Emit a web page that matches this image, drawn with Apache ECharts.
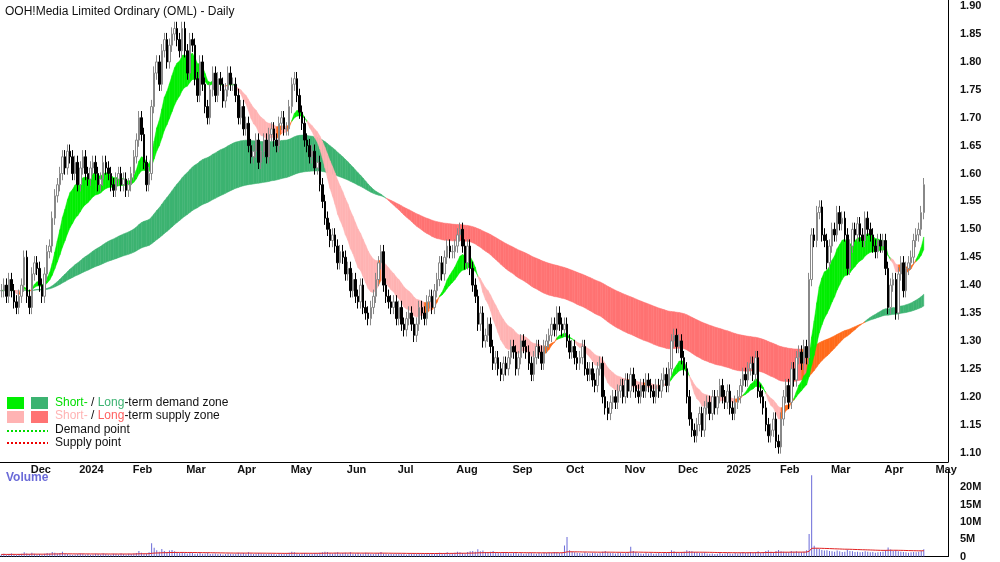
<!DOCTYPE html>
<html><head><meta charset="utf-8">
<script src="https://cdn.jsdelivr.net/npm/echarts@6/dist/echarts.min.js"></script>
<style>html,body{margin:0;padding:0;background:#fff}#c{width:1000px;height:562px}</style>
</head><body><div id="c"></div>
<script>
// month labels and daily closes, one array per month
var months = ['', 'Dec', '2024', 'Feb', 'Mar', 'Apr', 'May', 'Jun', 'Jul', 'Aug', 'Sep', 'Oct', 'Nov', 'Dec', '2025', 'Feb', 'Mar', 'Apr'];
var priceTicks = [1.10,1.15,1.20,1.25,1.30,1.35,1.40,1.45,1.50,1.55,1.60,1.65,1.70,1.75,1.80,1.85,1.90];
var closes = [
    [1.39,1.40,1.38,1.41,1.39,1.37,1.36,1.38,1.40,1.45],
    [1.38,1.36,1.42,1.44,1.43,1.40,1.38,1.42,1.46,1.47,1.52,1.56,1.58,1.60,1.63,1.61,1.64,1.63,1.60],
    [1.62,1.58,1.61,1.63,1.60,1.59,1.61,1.62,1.60,1.58,1.59,1.62,1.61,1.60,1.58,1.57,1.59,1.60,1.58,1.59,1.57],
    [1.58,1.60,1.63,1.66,1.70,1.67,1.62,1.58,1.60,1.72,1.78,1.80,1.76,1.82,1.84,1.80,1.83,1.85,1.86,1.84,1.82],
    [1.86,1.82,1.78,1.84,1.83,1.77,1.74,1.80,1.76,1.72,1.70,1.75,1.78,1.74,1.77,1.76,1.73,1.75,1.78,1.76],
    [1.76,1.74,1.70,1.72,1.68,1.69,1.65,1.63,1.64,1.66,1.62,1.64,1.66,1.63,1.67,1.68,1.66,1.65,1.69,1.70,1.68],
    [1.68,1.72,1.76,1.77,1.74,1.71,1.69,1.66,1.65,1.63,1.64,1.61,1.62,1.58,1.55,1.52,1.50,1.48,1.49,1.47,1.44,1.46],
    [1.45,1.42,1.43,1.39,1.41,1.38,1.37,1.40,1.36,1.35,1.34,1.36,1.38,1.41,1.44,1.46,1.40,1.38,1.37,1.36],
    [1.37,1.34,1.36,1.33,1.32,1.34,1.35,1.33,1.31,1.33,1.36,1.35,1.34,1.37,1.38,1.36,1.39,1.41,1.44,1.42,1.45,1.47,1.46],
    [1.46,1.47,1.49,1.50,1.47,1.44,1.47,1.43,1.40,1.38,1.33,1.35,1.30,1.31,1.33,1.29,1.26,1.27,1.25,1.24,1.26,1.25],
    [1.27,1.29,1.28,1.25,1.27,1.30,1.29,1.28,1.26,1.24,1.27,1.29,1.28,1.26,1.29,1.30,1.31,1.33,1.32,1.35,1.33],
    [1.32,1.33,1.30,1.28,1.29,1.27,1.26,1.27,1.29,1.25,1.24,1.25,1.23,1.22,1.25,1.26,1.20,1.18,1.17,1.19,1.20,1.19,1.21],
    [1.22,1.20,1.23,1.21,1.24,1.22,1.21,1.20,1.22,1.21,1.23,1.22,1.21,1.20,1.22,1.21,1.23,1.24,1.22,1.25,1.30],
    [1.31,1.29,1.30,1.27,1.25,1.20,1.16,1.14,1.13,1.15,1.17,1.14,1.18,1.19,1.17,1.20,1.18,1.20,1.22],
    [1.20,1.19,1.21,1.18,1.17,1.19,1.20,1.22,1.24,1.23,1.25,1.26,1.24,1.27,1.21,1.20,1.18,1.15,1.13,1.14,1.16],
    [1.12,1.11,1.16,1.20,1.22,1.19,1.25,1.23,1.27,1.28,1.26,1.29,1.27,1.41,1.49,1.48,1.53,1.54,1.49,1.48],
    [1.44,1.47,1.50,1.49,1.53,1.51,1.52,1.49,1.43,1.47,1.50,1.49,1.51,1.49,1.48,1.52,1.50,1.49,1.47,1.46,1.48],
    [1.47,1.48,1.43,1.36,1.40,1.41,1.35,1.42,1.44,1.39,1.43,1.44,1.45,1.48,1.49,1.50,1.53,1.58]
];
// volume in millions, one array per month
var volumes = [
    [0.6,0.8,0.5,0.7,0.9,0.6,0.5,0.7,0.8,1.2],
    [0.9,0.7,1.1,0.8,0.6,0.7,0.5,0.8,1.0,0.9,1.3,1.1,0.9,1.0,1.4,0.8,0.7,0.6,0.5],
    [0.6,0.7,0.9,0.8,0.6,0.7,0.5,0.6,0.8,0.7,0.6,0.9,0.7,0.6,0.5,0.8,0.7,0.6,0.9,0.7,0.6],
    [0.8,0.7,0.9,1.0,1.6,1.1,0.8,0.9,1.2,3.8,2.5,1.8,1.4,2.2,1.6,1.3,1.7,1.9,1.5,1.2,1.1],
    [1.3,1.0,0.9,1.2,1.1,0.8,0.9,1.0,0.8,0.9,1.1,0.7,0.8,0.9,0.7,0.8,0.6,0.7,0.9,0.8],
    [0.7,0.8,1.1,0.9,1.0,0.8,1.2,0.9,0.7,0.8,1.0,0.9,0.8,0.7,0.9,0.8,0.7,0.6,0.9,0.8,0.7],
    [0.9,1.1,1.4,1.2,0.9,0.8,0.9,1.0,0.8,0.9,0.8,1.0,0.9,1.1,1.2,1.4,1.3,1.0,0.9,1.1,1.2,0.9],
    [1.0,1.1,0.9,1.2,0.8,0.9,1.0,0.8,0.9,1.1,1.0,0.8,0.7,0.9,1.0,1.3,0.9,0.8,0.7,0.8],
    [0.7,0.8,0.9,0.7,0.8,0.6,0.7,0.9,0.8,0.7,0.9,0.8,0.7,0.8,0.9,0.7,0.8,1.0,1.1,0.9,1.0,1.2,0.9],
    [1.0,1.1,1.4,1.2,1.0,0.9,1.3,1.5,1.6,1.4,2.1,1.5,1.7,1.3,1.2,1.4,1.6,1.2,1.1,1.0,1.3,1.2],
    [1.0,0.9,1.1,1.2,0.9,1.0,0.8,0.9,1.0,1.1,0.9,0.8,1.0,0.9,1.1,1.0,1.2,1.1,1.3,1.2,1.0],
    [1.1,3.2,5.6,1.8,1.4,1.2,1.1,1.0,0.9,1.2,1.0,0.9,1.1,1.0,0.9,1.0,1.4,1.6,1.2,1.1,1.0,0.9,1.0],
    [1.1,0.9,1.0,1.2,2.8,1.6,1.3,1.0,0.9,0.8,1.0,0.9,1.1,0.8,0.9,1.0,0.9,1.1,1.0,1.2,1.8],
    [1.5,1.2,1.1,1.3,1.4,1.8,1.6,1.5,1.3,1.2,1.1,1.0,1.2,0.9,0.8,0.9,0.7,0.8,1.0],
    [0.8,0.9,1.0,0.9,0.8,1.0,0.9,1.1,1.2,1.0,1.1,1.3,1.0,1.2,1.5,1.1,1.3,1.6,1.8,1.4,1.2],
    [1.6,1.9,1.5,1.4,1.3,1.2,1.6,1.4,1.5,1.3,1.2,1.4,1.8,6.5,23.5,3.1,2.4,2.2,1.9,1.7],
    [1.8,1.6,1.5,1.4,1.7,1.5,1.3,1.4,2.0,1.6,1.5,1.3,1.4,1.2,1.3,1.5,1.4,1.2,1.3,1.1,1.2],
    [1.3,1.4,1.8,2.6,2.0,1.6,1.9,1.5,1.4,1.3,1.2,1.1,1.2,1.3,1.2,1.4,1.6,2.1]
];

var cats = [], close = [], vol = [], monthStart = {};
closes.forEach(function (arr, m) {
    if (m > 0) monthStart[cats.length] = months[m];
    arr.forEach(function (c, j) {
        cats.push(String(cats.length));
        close.push(c);
        vol.push(volumes[m][j] || 0.8);
    });
});
monthStart[cats.length + 2] = 'May';
for (var k = 0; k < 9; k++) cats.push(String(cats.length));

var candles = close.map(function (c, i) {
    var o = i ? close[i - 1] : c;
    return [o, c, Math.min(o, c) - 0.012, Math.max(o, c) + 0.012];
});
function ema(src, n) {
    var a = 2 / (n + 1), out = [], v = src[0];
    src.forEach(function (x) { v = v + a * (x - v); out.push(v); });
    return out;
}
function band(f, s, cols) {
    var d = [];
    for (var i = 0; i < f.length - 1; i++) {
        var ci = f[i] >= s[i] ? 0 : (s[i + 1] > s[i] ? 1 : 2);
        d.push({ value: [i, f[i], s[i], f[i + 1], s[i + 1]], itemStyle: { color: cols[ci] } });
    }
    return d;
}
var shortBand = band(ema(close, 11), ema(close, 24), ['#00ee00', '#ff6a1a', '#ffb3b3']);
var longBand = band(ema(close, 90), ema(close, 170), ['#3cb371', '#ff6a1a', '#ff7373']);
var volAvg = ema(vol, 50);

function renderBand(params, api) {
    var i = api.value(0);
    var p1 = api.coord([i, api.value(1)]), p2 = api.coord([i + 1, api.value(3)]);
    var p3 = api.coord([i + 1, api.value(4)]), p4 = api.coord([i, api.value(2)]);
    return { type: 'polygon', shape: { points: [p1, p2, p3, p4] },
        style: { fill: api.visual('color'), stroke: api.visual('color'), lineWidth: 0.5 } };
}

var chart = echarts.init(document.getElementById('c'));
var isStart = function (i) { return monthStart[i] !== undefined; };
var lbl = { fontFamily: 'Liberation Sans', fontSize: 11, fontWeight: 'bold', color: '#111' };
chart.setOption({
    animation: false,
    title: { text: 'OOH!Media Limited Ordinary (OML) - Daily', left: 0, top: 1,
        textStyle: { fontFamily: 'Liberation Sans', fontSize: 12, fontWeight: 'normal', color: '#111' } },
    grid: [
        { left: 0, right: 52, top: 0, height: 462 },
        { left: 0, right: 52, top: 470, bottom: 4 }
    ],
    xAxis: [
        { type: 'category', data: cats, gridIndex: 0, boundaryGap: true,
          axisLine: { lineStyle: { color: '#000' } },
          axisTick: { interval: isStart, length: 4, lineStyle: { color: '#000' } },
          axisLabel: Object.assign({ interval: isStart, formatter: function (v) { return monthStart[+v]; },
              align: 'left', padding: [0, 0, 0, 4], margin: 2 }, lbl) },
        { type: 'category', data: cats, gridIndex: 1, axisLine: { lineStyle: { color: '#000' } }, axisTick: { show: false }, axisLabel: { show: false } }
    ],
    yAxis: [
        { type: 'value', gridIndex: 0, position: 'right', min: 1.083, max: 1.911,
          splitLine: { show: false }, axisLine: { show: true, lineStyle: { color: '#000' } },
          axisTick: { show: false },
          axisLabel: Object.assign({ margin: 12, customValues: priceTicks, formatter: function (v) { return v.toFixed(2); } }, lbl) },
        { type: 'value', gridIndex: 1, position: 'right', min: 0, max: 25, interval: 5,
          splitLine: { show: false }, axisLine: { show: true, lineStyle: { color: '#000' } },
          axisTick: { show: false },
          axisLabel: Object.assign({ margin: 12, formatter: function (v) { return v === 0 ? '0' : (v >= 25 ? '' : v + 'M'); } }, lbl) }
    ],
    graphic: [
        { type: 'text', left: 6, top: 472, style: { text: 'Volume', fill: '#6a6ad8', font: 'bold 12px Liberation Sans' } },
        { type: 'rect', shape: { x: 7, y: 397, width: 17, height: 12 }, style: { fill: '#00ee00' } },
        { type: 'rect', shape: { x: 31, y: 397, width: 17, height: 12 }, style: { fill: '#3cb371' } },
        { type: 'rect', shape: { x: 7, y: 411, width: 17, height: 12 }, style: { fill: '#ffb3b3' } },
        { type: 'rect', shape: { x: 31, y: 411, width: 17, height: 12 }, style: { fill: '#ff7373' } },
        { type: 'line', shape: { x1: 7, y1: 431, x2: 48, y2: 431 }, style: { stroke: '#00dd00', lineWidth: 2, lineDash: [2, 2] } },
        { type: 'line', shape: { x1: 7, y1: 443, x2: 48, y2: 443 }, style: { stroke: '#ee0000', lineWidth: 2, lineDash: [2, 2] } },
        { type: 'text', left: 55, top: 397, style: { rich: { a: { fill: '#00dd00' }, b: { fill: '#3cb371' }, c: { fill: '#111' } },
            text: '{a|Short-} {c|/} {b|Long}{c|-term demand zone}', font: '12px Liberation Sans' } },
        { type: 'text', left: 55, top: 410, style: { rich: { a: { fill: '#ffb3b3' }, b: { fill: '#ff6060' }, c: { fill: '#111' } },
            text: '{a|Short-} {c|/} {b|Long}{c|-term supply zone}', font: '12px Liberation Sans' } },
        { type: 'text', left: 55, top: 424, style: { text: 'Demand point', fill: '#111', font: '12px Liberation Sans' } },
        { type: 'text', left: 55, top: 437, style: { text: 'Supply point', fill: '#111', font: '12px Liberation Sans' } }
    ],
    series: [
        { type: 'custom', xAxisIndex: 0, yAxisIndex: 0, renderItem: renderBand, data: longBand, encode: { x: 0, y: [1, 2] }, z: 1 },
        { type: 'custom', xAxisIndex: 0, yAxisIndex: 0, renderItem: renderBand, data: shortBand, encode: { x: 0, y: [1, 2] }, z: 2 },
        { type: 'candlestick', xAxisIndex: 0, yAxisIndex: 0, data: candles, barWidth: 2, z: 3,
          itemStyle: { color: '#ffffff', borderColor: '#888', color0: '#000', borderColor0: '#000', borderWidth: 1 } },
        { type: 'bar', xAxisIndex: 1, yAxisIndex: 1, data: vol, barWidth: 1, itemStyle: { color: '#6a6ad8' } },
        { type: 'line', xAxisIndex: 1, yAxisIndex: 1, data: volAvg, symbol: 'none', lineStyle: { color: '#e02020', width: 1 } }
    ]
});
</script></body></html>
